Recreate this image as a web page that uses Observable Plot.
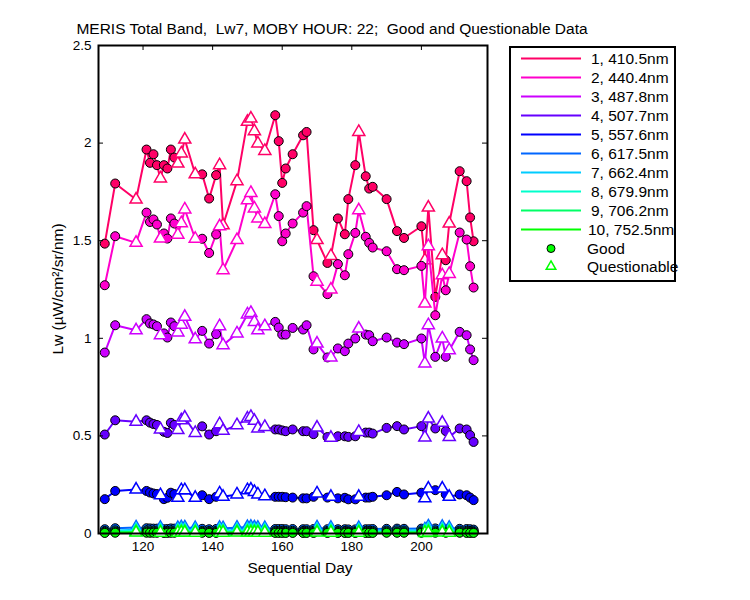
<!DOCTYPE html>
<html><head><meta charset="utf-8">
<script src="https://cdn.jsdelivr.net/npm/d3@7"></script>
<script src="https://cdn.jsdelivr.net/npm/@observablehq/plot@0.6"></script>
<style>
body{margin:0;background:#fff;font-family:"Liberation Sans",Arial,sans-serif;}
#wrap{position:relative;width:750px;height:600px;overflow:hidden;}
#wrap svg{position:absolute;left:0;top:0;}
.t{position:absolute;white-space:pre;font-size:15.5px;color:#000;line-height:18px;}
#legend{position:absolute;left:509px;top:46px;width:163px;height:232px;border:2px solid #000;background:#fff;}
#legend svg{overflow:visible;}
</style></head><body><div id="wrap"></div>
<script>
// ---- data ----
const days = [109,112,118,121,122,123,124,125,126,127,
  128,129,130,131,132,135,137,139,141,142,
  143,147,150,151,152,153,155,158,159,160,
  161,163,166,167,169,170,173,174,176,178,
  179,181,182,184,185,186,190,193,195,200,
  201,202,204,206,207,208,211,213,214,215];
const flags = ["G","G","Q","G","G","G","G","Q","G","G",
  "G","G","Q","Q","Q","Q","G","G","G","Q",
  "Q","Q","Q","Q","Q","Q","Q","G","G","G",
  "G","G","G","G","G","Q","G","Q","G","G",
  "G","G","Q","G","G","G","G","G","G","G",
  "Q","Q","G","Q","G","Q","G","G","G","G"];
const band1 = [1.485,1.793,1.711,1.967,1.899,1.943,1.887,1.819,1.887,1.870,
  1.967,1.926,1.895,1.947,2.018,1.840,1.840,1.716,1.836,1.887,
  1.579,1.805,2.109,2.126,2.061,1.998,1.960,2.143,2.010,1.796,
  1.870,1.943,2.040,2.057,1.554,1.503,1.386,1.422,1.614,1.533,
  1.713,1.887,2.057,1.830,1.767,1.776,1.713,1.549,1.514,1.574,
  1.400,1.670,1.212,1.426,1.400,1.588,1.856,1.805,1.619,1.497];
const band2 = [1.272,1.523,1.489,1.644,1.596,1.609,1.583,1.511,1.537,1.511,
  1.614,1.588,1.531,1.590,1.660,1.510,1.510,1.437,1.532,1.574,
  1.349,1.503,1.707,1.745,1.665,1.614,1.585,1.738,1.626,1.497,
  1.537,1.588,1.644,1.677,1.318,1.290,1.226,1.250,1.380,1.323,
  1.431,1.540,1.656,1.520,1.489,1.465,1.446,1.354,1.349,1.371,
  1.178,1.472,1.118,1.323,1.246,1.330,1.542,1.506,1.369,1.260];
const band3 = [0.927,1.067,1.041,1.098,1.076,1.071,1.062,1.016,1.025,1.004,
  1.081,1.062,1.030,1.070,1.110,0.995,1.038,0.973,1.021,1.062,
  0.965,1.025,1.122,1.130,1.084,1.041,1.062,1.084,1.055,1.019,
  1.019,1.053,1.045,1.067,0.943,0.973,0.902,0.902,0.948,0.934,
  0.973,0.999,1.050,1.019,1.016,0.985,1.004,0.978,0.970,0.999,
  0.871,1.067,0.905,0.999,0.905,0.939,1.033,1.016,0.943,0.888];
const band4 = [0.507,0.580,0.572,0.580,0.568,0.561,0.556,0.533,0.521,0.515,
  0.567,0.556,0.530,0.580,0.594,0.515,0.549,0.507,0.524,0.560,
  0.526,0.555,0.589,0.597,0.577,0.538,0.546,0.533,0.533,0.528,
  0.524,0.533,0.524,0.524,0.509,0.543,0.494,0.490,0.498,0.498,
  0.495,0.498,0.520,0.517,0.517,0.512,0.541,0.550,0.533,0.550,
  0.492,0.589,0.538,0.567,0.525,0.495,0.538,0.533,0.504,0.469];
const band5 = [0.176,0.218,0.225,0.218,0.210,0.205,0.202,0.196,0.176,0.183,
  0.209,0.202,0.183,0.222,0.222,0.183,0.196,0.176,0.188,0.205,
  0.188,0.200,0.222,0.225,0.213,0.200,0.191,0.188,0.188,0.188,
  0.186,0.184,0.180,0.180,0.188,0.205,0.184,0.188,0.180,0.183,
  0.175,0.175,0.188,0.184,0.184,0.188,0.196,0.213,0.200,0.209,
  0.180,0.230,0.222,0.230,0.200,0.188,0.200,0.196,0.184,0.171];
const band6 = [0.022,0.027,0.031,0.027,0.026,0.025,0.025,0.029,0.022,0.023,
  0.026,0.025,0.028,0.032,0.031,0.028,0.024,0.022,0.023,0.029,
  0.027,0.030,0.033,0.034,0.031,0.029,0.028,0.023,0.023,0.023,
  0.022,0.023,0.022,0.022,0.023,0.031,0.022,0.029,0.022,0.022,
  0.021,0.021,0.028,0.022,0.022,0.023,0.024,0.025,0.024,0.025,
  0.021,0.036,0.026,0.034,0.024,0.029,0.024,0.023,0.022,0.020];
const band7 = [0.013,0.016,0.019,0.016,0.016,0.015,0.015,0.018,0.013,0.014,
  0.016,0.015,0.017,0.020,0.019,0.017,0.014,0.013,0.014,0.018,
  0.016,0.018,0.021,0.022,0.019,0.018,0.017,0.014,0.014,0.014,
  0.013,0.014,0.013,0.013,0.014,0.019,0.013,0.018,0.013,0.013,
  0.012,0.012,0.017,0.013,0.013,0.014,0.015,0.016,0.015,0.016,
  0.012,0.023,0.016,0.021,0.015,0.018,0.015,0.014,0.013,0.012];
const band8 = [0.009,0.011,0.013,0.011,0.010,0.010,0.010,0.012,0.009,0.009,
  0.010,0.010,0.011,0.013,0.012,0.011,0.009,0.009,0.009,0.012,
  0.011,0.012,0.014,0.014,0.013,0.012,0.011,0.009,0.009,0.009,
  0.009,0.009,0.009,0.009,0.009,0.013,0.009,0.012,0.009,0.009,
  0.008,0.008,0.011,0.009,0.009,0.009,0.010,0.010,0.010,0.010,
  0.008,0.015,0.011,0.014,0.010,0.012,0.010,0.009,0.009,0.008];
const band9 = [0.005,0.007,0.008,0.007,0.006,0.006,0.006,0.007,0.005,0.006,
  0.006,0.006,0.007,0.008,0.008,0.007,0.006,0.005,0.006,0.007,
  0.007,0.008,0.009,0.009,0.008,0.007,0.007,0.006,0.006,0.006,
  0.005,0.006,0.005,0.005,0.006,0.008,0.005,0.007,0.005,0.005,
  0.005,0.005,0.007,0.005,0.005,0.006,0.006,0.006,0.006,0.006,
  0.005,0.009,0.007,0.009,0.006,0.007,0.006,0.006,0.005,0.005];
const band10 = [0.003,0.004,0.005,0.004,0.004,0.004,0.004,0.004,0.003,0.003,
  0.004,0.004,0.004,0.005,0.005,0.004,0.004,0.003,0.003,0.004,
  0.004,0.005,0.005,0.005,0.005,0.004,0.004,0.003,0.003,0.003,
  0.003,0.003,0.003,0.003,0.003,0.005,0.003,0.004,0.003,0.003,
  0.003,0.003,0.004,0.003,0.003,0.003,0.004,0.004,0.004,0.004,
  0.003,0.005,0.004,0.005,0.004,0.004,0.004,0.003,0.003,0.003];
const bandLabels = ["1, 410.5nm","2, 440.4nm","3, 487.8nm","4, 507.7nm","5, 557.6nm",
  "6, 617.5nm","7, 662.4nm","8, 679.9nm","9, 706.2nm","10, 752.5nm"];
const bandColors = ["#ff0066","#ff00cc","#cc00ff","#6600ff","#0000ff",
  "#0066ff","#00ccff","#00ffcc","#00ff66","#00ff00"];
const xTicks = [120,140,160,180,200];
const yTicks = [0,0.5,1,1.5,2,2.5];
const titleText = "MERIS Total Band,  Lw7, MOBY HOUR: 22;  Good and Questionable Data";
const xLabel = "Sequential Day";
const yLabel = "Lw (\u00b5W/cm\u00b2/sr/nm)";

// ---- build ----
const bands = [band1,band2,band3,band4,band5,band6,band7,band8,band9,band10];
const table = [];
bands.forEach((vals,b)=>vals.forEach((v,i)=>table.push({band:b, day:days[i], value:v, q:flags[i]})));

const W=750,H=600,mL=98,mR=263,mT=45,mB=67;
const innerW=W-mL-mR, innerH=H-mT-mB;
const marks=[];
for(let b=0;b<10;b++){
  const rows=table.filter(d=>d.band===b);
  marks.push(Plot.line(rows,{x:"day",y:"value",stroke:bandColors[b],strokeWidth:2}));
  marks.push(Plot.dot(rows.filter(d=>d.q==="G"),{x:"day",y:"value",r:4.5,fill:bandColors[b],stroke:"#000",strokeWidth:1}));
  marks.push(Plot.dot(rows.filter(d=>d.q==="Q"),{x:"day",y:"value",symbol:"triangle",r:4.5,fill:"#fff",stroke:bandColors[b],strokeWidth:1.5}));
}
marks.push(Plot.tickX(xTicks,{x:d=>d,insetTop:innerH-5,stroke:"#000"}));
marks.push(Plot.tickX(xTicks,{x:d=>d,insetBottom:innerH-5,stroke:"#000"}));
marks.push(Plot.tickY(yTicks,{y:d=>d,insetRight:innerW-5,stroke:"#000"}));
marks.push(Plot.tickY(yTicks,{y:d=>d,insetLeft:innerW-5,stroke:"#000"}));
marks.push(Plot.axisX({ticks:xTicks,tickSize:0,tickPadding:8,label:null,tickFormat:d=>String(d)}));
marks.push(Plot.axisY({ticks:yTicks,tickSize:0,tickPadding:7,label:null,tickFormat:d=>String(d)}));
marks.push(Plot.frame({stroke:"#000",strokeWidth:2}));

const chart = Plot.plot({
  width:W,height:H,marginLeft:mL,marginRight:mR,marginTop:mT,marginBottom:mB,
  x:{domain:[107.2,219]},
  y:{domain:[0,2.5]},
  style:{fontFamily:"'Liberation Sans', Arial, sans-serif",fontSize:"13.5px",background:"#fff",color:"#000"},
  marks
});
const wrap=document.getElementById("wrap");
wrap.appendChild(chart);

function addText(txt,css){const d=document.createElement("div");d.className="t";d.textContent=txt;Object.assign(d.style,css);wrap.appendChild(d);return d;}
addText(titleText,{left:"0px",width:"664px",textAlign:"center",top:"20px"});
addText(xLabel,{left:"200px",width:"200px",textAlign:"center",top:"559px"});
addText(yLabel,{left:"-42px",width:"200px",textAlign:"center",top:"280px",transform:"rotate(-90deg)",transformOrigin:"100px 9px"});

// legend
const leg=document.createElement("div");leg.id="legend";wrap.appendChild(leg);
const ls=d3.select(leg).append("svg").attr("width",163).attr("height",232).style("position","absolute").style("left","0").style("top","0");
const lf="'Liberation Sans', Arial, sans-serif";
bandLabels.forEach((lab,i)=>{
  const y=10.5+i*19;
  ls.append("line").attr("x1",10).attr("x2",70).attr("y1",y).attr("y2",y).attr("stroke",bandColors[i]).attr("stroke-width",2);
  ls.append("text").attr("x",i===9?77:80).attr("y",y+5.5).attr("font-size",15.5).attr("font-family",lf).text(lab);
});
const gy=10.5+10*19, qy=10.5+11*19-1;
ls.append("circle").attr("cx",40).attr("cy",gy).attr("r",4).attr("fill","#00ff00").attr("stroke","#000");
ls.append("path").attr("d",d3.symbol(d3.symbolTriangle,40)()).attr("transform",`translate(40,${qy})`).attr("fill","none").attr("stroke","#00ff00").attr("stroke-width",1.5);
ls.append("text").attr("x",76).attr("y",gy+5.5).attr("font-size",15.5).attr("font-family",lf).text("Good");
ls.append("text").attr("x",76).attr("y",qy+5.5).attr("font-size",15.5).attr("font-family",lf).text("Questionable");
</script></body></html>
